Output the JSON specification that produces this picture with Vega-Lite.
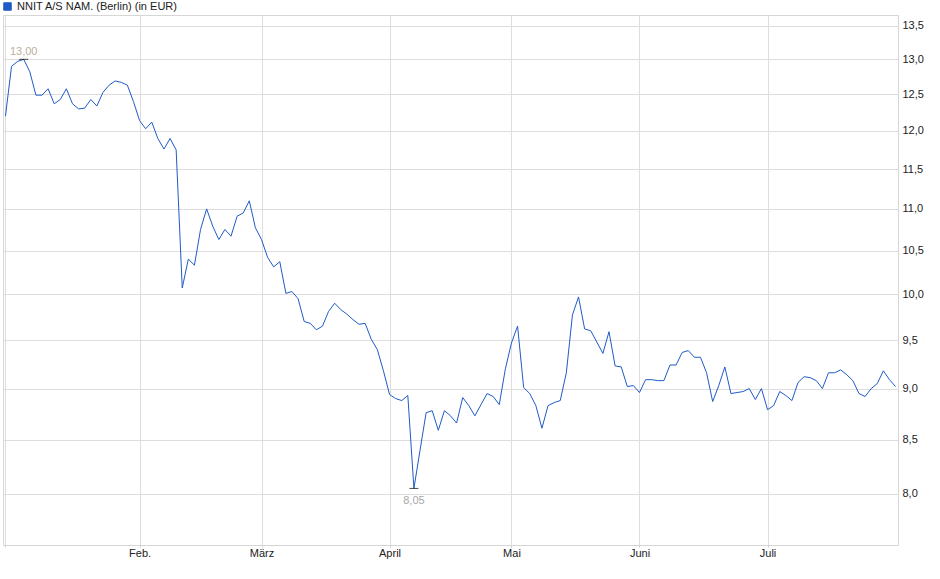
{
  "$schema": "https://vega.github.io/schema/vega-lite/v6.json",
  "width": 895,
  "height": 530,
  "autosize": "none",
  "padding": {"left": 3, "top": 15, "right": 42, "bottom": 34},
  "background": "white",
  "config": {
    "font": "Liberation Sans",
    "view": {"stroke": "#d6d6d6", "strokeWidth": 1}
  },
  "datasets": {
    "kurs": [
      {"d": "2025-01-02", "v": 12.20}, {"d": "2025-01-03", "v": 12.90}, {"d": "2025-01-06", "v": 12.97}, {"d": "2025-01-07", "v": 13.00},
      {"d": "2025-01-08", "v": 12.82}, {"d": "2025-01-09", "v": 12.49}, {"d": "2025-01-10", "v": 12.49}, {"d": "2025-01-13", "v": 12.58},
      {"d": "2025-01-14", "v": 12.37}, {"d": "2025-01-15", "v": 12.43}, {"d": "2025-01-16", "v": 12.58}, {"d": "2025-01-17", "v": 12.37},
      {"d": "2025-01-20", "v": 12.30}, {"d": "2025-01-21", "v": 12.31}, {"d": "2025-01-22", "v": 12.43}, {"d": "2025-01-23", "v": 12.34},
      {"d": "2025-01-24", "v": 12.53}, {"d": "2025-01-27", "v": 12.63}, {"d": "2025-01-28", "v": 12.69}, {"d": "2025-01-29", "v": 12.67},
      {"d": "2025-01-30", "v": 12.63}, {"d": "2025-01-31", "v": 12.40},
      {"d": "2025-02-03", "v": 12.14}, {"d": "2025-02-04", "v": 12.03}, {"d": "2025-02-05", "v": 12.12}, {"d": "2025-02-06", "v": 11.90},
      {"d": "2025-02-07", "v": 11.76}, {"d": "2025-02-10", "v": 11.90}, {"d": "2025-02-11", "v": 11.75}, {"d": "2025-02-12", "v": 10.07},
      {"d": "2025-02-13", "v": 10.40}, {"d": "2025-02-14", "v": 10.33}, {"d": "2025-02-17", "v": 10.75}, {"d": "2025-02-18", "v": 11.00},
      {"d": "2025-02-19", "v": 10.79}, {"d": "2025-02-20", "v": 10.63}, {"d": "2025-02-21", "v": 10.75}, {"d": "2025-02-24", "v": 10.67},
      {"d": "2025-02-25", "v": 10.91}, {"d": "2025-02-26", "v": 10.95}, {"d": "2025-02-27", "v": 11.10}, {"d": "2025-02-28", "v": 10.77},
      {"d": "2025-03-03", "v": 10.63}, {"d": "2025-03-04", "v": 10.42}, {"d": "2025-03-05", "v": 10.31}, {"d": "2025-03-06", "v": 10.37},
      {"d": "2025-03-07", "v": 10.01}, {"d": "2025-03-10", "v": 10.03}, {"d": "2025-03-11", "v": 9.95}, {"d": "2025-03-12", "v": 9.70},
      {"d": "2025-03-13", "v": 9.68}, {"d": "2025-03-14", "v": 9.61}, {"d": "2025-03-17", "v": 9.65}, {"d": "2025-03-18", "v": 9.81},
      {"d": "2025-03-19", "v": 9.90}, {"d": "2025-03-20", "v": 9.83}, {"d": "2025-03-21", "v": 9.78}, {"d": "2025-03-24", "v": 9.72},
      {"d": "2025-03-25", "v": 9.67}, {"d": "2025-03-26", "v": 9.68}, {"d": "2025-03-27", "v": 9.51}, {"d": "2025-03-28", "v": 9.40},
      {"d": "2025-03-31", "v": 9.18},
      {"d": "2025-04-01", "v": 8.94}, {"d": "2025-04-02", "v": 8.90}, {"d": "2025-04-03", "v": 8.88}, {"d": "2025-04-04", "v": 8.93},
      {"d": "2025-04-07", "v": 8.05}, {"d": "2025-04-08", "v": 8.40}, {"d": "2025-04-09", "v": 8.76}, {"d": "2025-04-10", "v": 8.78},
      {"d": "2025-04-11", "v": 8.59}, {"d": "2025-04-14", "v": 8.78}, {"d": "2025-04-15", "v": 8.73}, {"d": "2025-04-16", "v": 8.66},
      {"d": "2025-04-17", "v": 8.91}, {"d": "2025-04-22", "v": 8.83}, {"d": "2025-04-23", "v": 8.73}, {"d": "2025-04-24", "v": 8.84},
      {"d": "2025-04-25", "v": 8.95}, {"d": "2025-04-28", "v": 8.92}, {"d": "2025-04-29", "v": 8.84}, {"d": "2025-04-30", "v": 9.20},
      {"d": "2025-05-02", "v": 9.47}, {"d": "2025-05-05", "v": 9.65}, {"d": "2025-05-06", "v": 9.01}, {"d": "2025-05-07", "v": 8.95},
      {"d": "2025-05-08", "v": 8.83}, {"d": "2025-05-09", "v": 8.61}, {"d": "2025-05-12", "v": 8.83}, {"d": "2025-05-13", "v": 8.86},
      {"d": "2025-05-14", "v": 8.88}, {"d": "2025-05-15", "v": 9.16}, {"d": "2025-05-16", "v": 9.77}, {"d": "2025-05-19", "v": 9.97},
      {"d": "2025-05-20", "v": 9.62}, {"d": "2025-05-21", "v": 9.60}, {"d": "2025-05-22", "v": 9.48}, {"d": "2025-05-23", "v": 9.36},
      {"d": "2025-05-26", "v": 9.59}, {"d": "2025-05-27", "v": 9.23}, {"d": "2025-05-28", "v": 9.22}, {"d": "2025-05-29", "v": 9.02},
      {"d": "2025-05-30", "v": 9.03},
      {"d": "2025-06-02", "v": 8.96}, {"d": "2025-06-03", "v": 9.09}, {"d": "2025-06-04", "v": 9.09}, {"d": "2025-06-05", "v": 9.08},
      {"d": "2025-06-06", "v": 9.08}, {"d": "2025-06-09", "v": 9.24}, {"d": "2025-06-10", "v": 9.24}, {"d": "2025-06-11", "v": 9.37},
      {"d": "2025-06-12", "v": 9.39}, {"d": "2025-06-13", "v": 9.32}, {"d": "2025-06-16", "v": 9.32}, {"d": "2025-06-17", "v": 9.16},
      {"d": "2025-06-18", "v": 8.87}, {"d": "2025-06-19", "v": 9.03}, {"d": "2025-06-20", "v": 9.22}, {"d": "2025-06-23", "v": 8.95},
      {"d": "2025-06-24", "v": 8.96}, {"d": "2025-06-25", "v": 8.97}, {"d": "2025-06-26", "v": 9.00}, {"d": "2025-06-27", "v": 8.89},
      {"d": "2025-06-30", "v": 9.00},
      {"d": "2025-07-01", "v": 8.79}, {"d": "2025-07-02", "v": 8.83}, {"d": "2025-07-03", "v": 8.97}, {"d": "2025-07-04", "v": 8.93},
      {"d": "2025-07-07", "v": 8.88}, {"d": "2025-07-08", "v": 9.06}, {"d": "2025-07-09", "v": 9.12}, {"d": "2025-07-10", "v": 9.11},
      {"d": "2025-07-11", "v": 9.08}, {"d": "2025-07-14", "v": 9.00}, {"d": "2025-07-15", "v": 9.16}, {"d": "2025-07-16", "v": 9.16},
      {"d": "2025-07-17", "v": 9.19}, {"d": "2025-07-18", "v": 9.14}, {"d": "2025-07-21", "v": 9.08}, {"d": "2025-07-22", "v": 8.95},
      {"d": "2025-07-23", "v": 8.92}, {"d": "2025-07-24", "v": 9.00}, {"d": "2025-07-25", "v": 9.05}, {"d": "2025-07-28", "v": 9.18},
      {"d": "2025-07-29", "v": 9.09}, {"d": "2025-07-30", "v": 9.02}
    ],
    "extreme": [
      {"d": "2025-01-07", "v": 13.00, "label": "13,00", "pos": "max"},
      {"d": "2025-04-07", "v": 8.05, "label": "8,05", "pos": "min"}
    ]
  },
  "encoding": {
    "x": {
      "field": "d",
      "type": "ordinal",
      "scale": {"type": "point", "padding": 0.4},
      "axis": {
        "title": null,
        "values": ["2025-01-02", "2025-02-03", "2025-03-03", "2025-04-01", "2025-05-02", "2025-06-02", "2025-07-01"],
        "labelExpr": "datum.value == '2025-02-03' ? 'Feb.' : datum.value == '2025-03-03' ? 'März' : datum.value == '2025-04-01' ? 'April' : datum.value == '2025-05-02' ? 'Mai' : datum.value == '2025-06-02' ? 'Juni' : datum.value == '2025-07-01' ? 'Juli' : ''",
        "labelAngle": 0,
        "labelFontSize": 11,
        "labelColor": "#222222",
        "labelPadding": 0,
        "labelOverlap": false,
        "grid": true,
        "gridColor": "#dddddd",
        "domain": false,
        "tickColor": "#cccccc",
        "tickSize": 2
      }
    },
    "y": {
      "field": "v",
      "type": "quantitative",
      "scale": {"type": "log", "domain": [7.557, 13.66], "nice": false, "zero": false},
      "axis": {
        "title": null,
        "orient": "right",
        "values": [8, 8.5, 9, 9.5, 10, 10.5, 11, 11.5, 12, 12.5, 13, 13.5],
        "labelExpr": "replace(format(datum.value, '.1f'), '.', ',')",
        "labelFontSize": 11,
        "labelColor": "#222222",
        "labelPadding": 4,
        "ticks": false,
        "domain": false,
        "grid": true,
        "gridColor": "#dddddd"
      }
    }
  },
  "layer": [
    {
      "data": {"name": "kurs"},
      "mark": {"type": "line", "strokeWidth": 1, "interpolate": "linear"},
      "encoding": {
        "color": {
          "datum": "NNIT A/S NAM. (Berlin) (in EUR)",
          "scale": {"range": ["#1f5bc6"]},
          "legend": {
            "title": null,
            "orient": "none",
            "legendX": -1,
            "legendY": -14,
            "padding": 0,
            "symbolType": "square",
            "symbolSize": 56,
            "labelFontSize": 11,
            "labelColor": "#222222",
            "labelOffset": 4,
            "labelLimit": 0,
            "encode": {
              "symbols": {
                "update": {
                  "fill": {"value": "#1f5bc6"},
                  "stroke": {"value": "#0e3c8c"},
                  "strokeWidth": {"value": 1}
                }
              }
            }
          }
        }
      }
    },
    {
      "data": {"name": "extreme"},
      "mark": {"type": "tick", "color": "#000000", "size": 9, "thickness": 1}
    },
    {
      "data": {"name": "extreme"},
      "transform": [{"filter": "datum.pos == 'max'"}],
      "mark": {"type": "text", "dy": -7, "fontSize": 11, "color": "#bcae9c"},
      "encoding": {"text": {"field": "label"}}
    },
    {
      "data": {"name": "extreme"},
      "transform": [{"filter": "datum.pos == 'min'"}],
      "mark": {"type": "text", "dy": 13, "fontSize": 11, "color": "#a8a8a8"},
      "encoding": {"text": {"field": "label"}}
    }
  ]
}
